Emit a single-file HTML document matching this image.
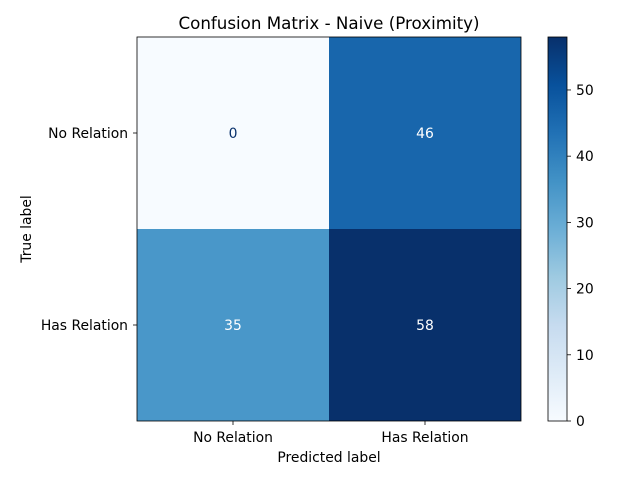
<!DOCTYPE html>
<html><head><meta charset="utf-8"><style>
body{margin:0;background:#fff;font-family:"Liberation Sans","DejaVu Sans",sans-serif}
svg text{font-family:"DejaVu Sans","Liberation Sans",sans-serif}
</style></head><body>
<svg id="c" width="640" height="480" xmlns="http://www.w3.org/2000/svg">
<defs><linearGradient id="blues" x1="0" y1="1" x2="0" y2="0">
<stop offset="0" stop-color="#f7fbff"/><stop offset="0.125" stop-color="#deebf7"/><stop offset="0.25" stop-color="#c6dbef"/><stop offset="0.375" stop-color="#9ecae1"/><stop offset="0.5" stop-color="#6baed6"/><stop offset="0.625" stop-color="#4292c6"/><stop offset="0.75" stop-color="#2171b5"/><stop offset="0.875" stop-color="#08519c"/><stop offset="1" stop-color="#08306b"/>
</linearGradient></defs>
<text x="329" y="29" font-size="16.7" text-anchor="middle">Confusion Matrix - Naive (Proximity)</text>
<text x="329" y="462" font-size="13.9" text-anchor="middle">Predicted label</text>
<text transform="translate(31,229) rotate(-90)" font-size="13.9" text-anchor="middle">True label</text>
<g id="cells"></g>
<rect x="548" y="37" width="19" height="384" fill="url(#blues)" stroke="#000" stroke-width="0.8"/>
<g id="cbticks"></g>
<rect x="137" y="37" width="384" height="384" fill="none" stroke="#000" stroke-width="0.8"/>
</svg>
<script>
const labels=["No Relation","Has Relation"];
const matrix=[[0,46],[35,58]];
const cbTicks=[0,10,20,30,40,50];
const stops=["#f7fbff","#deebf7","#c6dbef","#9ecae1","#6baed6","#4292c6","#2171b5","#08519c","#08306b"];
const NS="http://www.w3.org/2000/svg";
const x0=137,y0=37,S=384,n=labels.length,cs=S/n;
const vmin=0,vmax=Math.max(...matrix.flat());
function col(t){t=Math.max(0,Math.min(1,t))*(stops.length-1);const i=Math.min(Math.floor(t),stops.length-2),f=t-i;
const a=stops[i],b=stops[i+1];const p=(s,k)=>parseInt(s.substr(1+2*k,2),16);
return "rgb("+[0,1,2].map(k=>Math.round(p(a,k)+(p(b,k)-p(a,k))*f)).join(",")+")";}
function mk(tag,attrs,parent){const e=document.createElementNS(NS,tag);for(const k in attrs)e.setAttribute(k,attrs[k]);parent.appendChild(e);return e;}
const svg=document.getElementById('c'),g=document.getElementById('cells'),cb=document.getElementById('cbticks');
const yCb=v=>421-(v-vmin)/(vmax-vmin)*S;
for(let r=0;r<n;r++)for(let c=0;c<n;c++){
const v=matrix[r][c],t=(v-vmin)/(vmax-vmin);
const rc=mk('rect',{x:x0+c*cs,y:y0+r*cs,width:cs,height:cs,fill:col(t)},g);


const tx=mk('text',{x:x0+c*cs+cs/2,y:y0+r*cs+cs/2+5,'font-size':13.9,'text-anchor':'middle',fill:t>0.5?'#fff':'#08306b'},g);
tx.textContent=v;

}
labels.forEach((l,i)=>{
const cx=x0+i*cs+cs/2;
mk('line',{x1:cx,x2:cx,y1:421,y2:425,stroke:'#000','stroke-width':0.8},svg);
const tx=mk('text',{x:cx,y:442,'font-size':13.9,'text-anchor':'middle'},svg);tx.textContent=l;


const cy=y0+i*cs+cs/2;
mk('line',{x1:133,x2:137,y1:cy,y2:cy,stroke:'#000','stroke-width':0.8},svg);
const ty=mk('text',{x:128,y:cy+5,'font-size':13.9,'text-anchor':'end'},svg);ty.textContent=l;

});
cbTicks.forEach(v=>{const y=yCb(v);
mk('line',{x1:567,x2:571,y1:y,y2:y,stroke:'#000','stroke-width':0.8},cb);
const t=mk('text',{x:576,y:y+5,'font-size':13.9},cb);t.textContent=v;

});
</script>
</body></html>
